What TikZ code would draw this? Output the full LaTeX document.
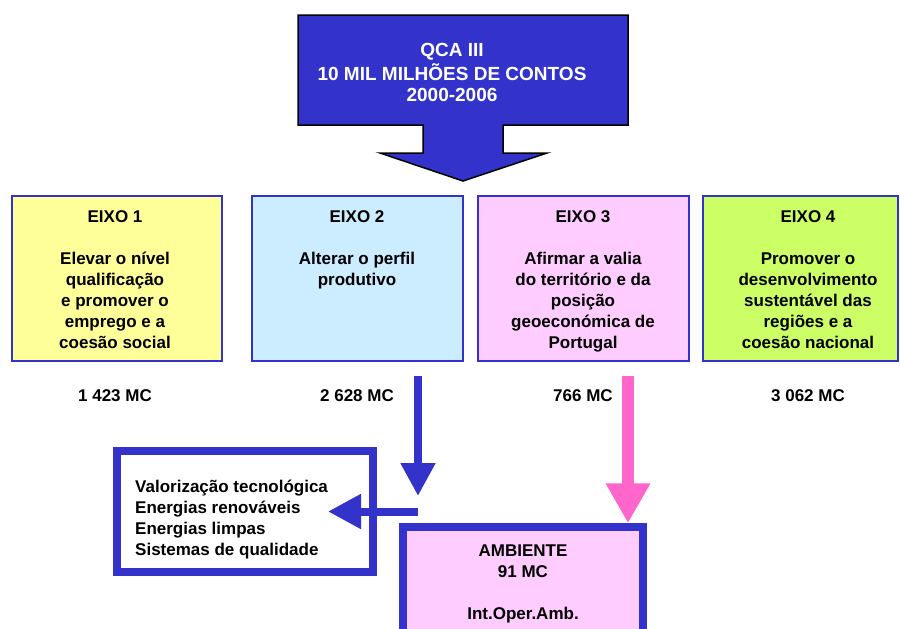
\documentclass[tikz,border=0pt]{standalone}
\usepackage{fontspec}
\setmainfont{Liberation Sans}
\usetikzlibrary{positioning, arrows.meta}

\definecolor{qblue}{HTML}{3333CC}
\definecolor{qpink}{HTML}{FF66CC}
\definecolor{fillyellow}{HTML}{FFFF99}
\definecolor{fillblue}{HTML}{CCECFF}
\definecolor{fillpink}{HTML}{FFCCFF}
\definecolor{filllime}{HTML}{CCFF66}

\begin{document}
\begin{tikzpicture}[
    x=1pt, y=-1pt,
    eixo/.style={rectangle, draw=qblue, line width=1.5pt, minimum height=165pt, inner sep=0pt},
    txt/.style={font=\bfseries\fontsize{17}{21}\selectfont, align=center, inner sep=0pt, anchor=north},
    amount/.style={font=\bfseries\fontsize{17}{21}\selectfont, inner sep=0pt, anchor=base},
    thickbox/.style={rectangle, draw=qblue, line width=8pt, inner sep=0pt},
    bluearrow/.style={draw=qblue, line width=8pt, -{Triangle[length=33pt, width=33pt]}},
    pinkarrow/.style={draw=qpink, line width=12pt, -{Triangle[length=40pt, width=42pt]}}
]

\useasboundingbox (0,0) rectangle (900,629);
\clip (0,0) rectangle (900,629);

% Top block arrow with the programme title
\draw[fill=qblue, line width=1.5pt] (298,15) -- (628,15) -- (628,125) -- (503,125) -- (503,153)
    -- (547,153) -- (463,181) -- (380,153) -- (423,153) -- (423,125) -- (298,125) -- cycle;
\node[txt, text=white, font=\bfseries\fontsize{19}{21}\selectfont] (qca) at (452,41.3)
    {\strut QCA III\\10 MIL MILHÕES DE CONTOS\\2000-2006};

% The four axes with their amounts
\foreach \i/\bx/\bw/\tx/\col/\amt/\body in {
    1/117/210/115/fillyellow/1 423 MC/{Elevar o nível\\qualificação\\e promover o\\emprego e a\\coesão social},
    2/357.5/211/357/fillblue/2 628 MC/{Alterar o perfil\\produtivo},
    3/583.5/211/583/fillpink/766 MC/{Afirmar a valia\\do território e da\\posição\\geoeconómica de\\Portugal},
    4/800.5/195/808/filllime/3 062 MC/{Promover o\\desenvolvimento\\sustentável das\\regiões e a\\coesão nacional}}{
    \node[eixo, fill=\col, minimum width=\bw pt] (eixo\i) at (\bx,278.5) {};
    \node[txt] (titulo\i) at (\tx,207.3) {\strut EIXO \i};
    \node[txt] (corpo\i) at (\tx,249.3) {\strut\body};
    \node[amount] (verba\i) at (\tx,401) {\amt};
}

% Lower boxes
\node[thickbox, minimum width=256pt, minimum height=121pt] (temas) at (245,511.5) {};
\node[txt, align=left, anchor=north west] (lista) at (135,477.3)
    {\strut Valorização tecnológica\\Energias renováveis\\Energias limpas\\Sistemas de qualidade};

\node[thickbox, fill=fillpink, line width=7.5pt, minimum width=240pt, minimum height=113pt] (amb) at (523,583.5) {};
\node[txt] (ambtxt) at (523,541.3) {\strut AMBIENTE\\91 MC\\[21pt]Int.Oper.Amb.};

% Arrows
\coordinate (b1) at (418,376);
\coordinate (b2) at (418,496);
\draw[bluearrow] (b1) -- (b2);
\coordinate (h1) at (418,511.5);
\coordinate (h2) at (328,511.5);
\draw[bluearrow] (h1) -- (h2);
\coordinate (p1) at (628,376);
\draw[pinkarrow] (p1) -- (p1 |- amb.north);

\end{tikzpicture}
\end{document}
